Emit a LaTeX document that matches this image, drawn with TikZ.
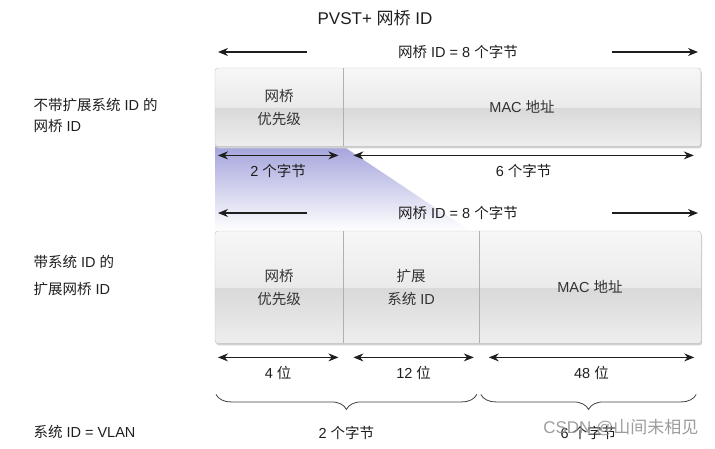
\documentclass[tikz,border=0pt]{standalone}
\usepackage{fontspec}
\setmainfont{Liberation Sans}
\newfontfamily\cjk{Noto Sans CJK SC}
\newcommand{\zh}[1]{{\cjk #1}}
\usetikzlibrary{positioning,arrows.meta,decorations.pathreplacing,backgrounds}

\definecolor{txt}{HTML}{1E1E1E}
\definecolor{frame}{HTML}{C2C2C2}
\definecolor{sep}{HTML}{B0B0B0}
\definecolor{lilac}{RGB}{164,164,220}
\definecolor{boxtop}{HTML}{F7F7F7}
\definecolor{boxmid}{HTML}{EAEAEA}
\definecolor{boxband}{HTML}{D9D9D9}
\definecolor{boxlow}{HTML}{EEEEEE}
\pgfdeclareverticalshading{fieldshade}{100bp}{color(0bp)=(boxlow); color(25bp)=(boxlow); color(49.6bp)=(boxband); color(50bp)=(boxmid); color(75bp)=(boxtop); color(100bp)=(boxtop)}

\tikzset{
  field/.style={inner sep=0pt, align=center, text=black!80, font=\fontsize{14.5}{23}\selectfont},
  sizearrow/.style={{Stealth[length=10pt,width=8pt]}-{Stealth[length=10pt,width=8pt]}, line width=1pt, txt},
  halfarrow/.style={-{Stealth[length=10pt,width=8pt]}, line width=1.1pt, txt},
  bytebrace/.style={decorate, decoration={brace, mirror, amplitude=15pt}, line width=0.8pt, txt!85},
  boxshadow/.style={black!18, rounded corners=3pt},
  boxbody/.style={shading=fieldshade, draw=frame, rounded corners=3pt}
}

\begin{document}
\begin{tikzpicture}[x=1pt, y=-1pt, every node/.style={text=txt, font=\fontsize{14.5}{17}\selectfont}]
\useasboundingbox (0,0) rectangle (715,448);

% title and row labels
\node[font=\fontsize{17}{20}\selectfont] (title) at (375,18) {PVST+ \zh{网桥} ID};
\node[anchor=west, align=left, font=\fontsize{14.5}{21}\selectfont] (lbl1) at (30,115) {\zh{不带扩展系统} ID \zh{的}\\\zh{网桥} ID};
\node[anchor=west, align=left, font=\fontsize{14.5}{27}\selectfont] (lbl2) at (30,275) {\zh{带系统} ID \zh{的}\\\zh{扩展网桥} ID};
\node[anchor=west] (lbl3) at (30,432) {\zh{系统} ID = VLAN};

% bridge ID without extended system ID
\node[field, anchor=north west, minimum width=128pt, minimum height=78pt] (prio1) at (215,68) {\zh{网桥}\\\zh{优先级}};
\node[field, right=0pt of prio1, minimum width=357pt, minimum height=78pt] (mac1) {MAC \zh{地址}};

% bridge ID with extended system ID
\node[field, anchor=north west, minimum width=128pt, minimum height=112pt] (prio2) at (215,231) {\zh{网桥}\\\zh{优先级}};
\node[field, right=0pt of prio2, minimum width=135pt, minimum height=112pt] (ext2) {\zh{扩展}\\\zh{系统} ID};
\node[field, right=0pt of ext2, minimum width=222pt, minimum height=112pt] (mac2) {MAC \zh{地址}};

\begin{scope}[on background layer]
\shade[top color=lilac, bottom color=white] (prio1.south west) -- (prio1.south east) -- (470,231) -- (prio2.north west) -- cycle;
\fill[boxshadow] ([shift={(1pt,-2pt)}]prio1.north west) rectangle ([shift={(1pt,-2pt)}]mac1.south east);
\fill[boxshadow] ([shift={(1pt,-2pt)}]prio2.north west) rectangle ([shift={(1pt,-2pt)}]mac2.south east);
\shadedraw[boxbody] (prio1.north west) rectangle (mac1.south east);
\shadedraw[boxbody] (prio2.north west) rectangle (mac2.south east);
\draw[sep] (prio1.north east) -- (prio1.south east);
\draw[sep] (prio2.north east) -- (prio2.south east);
\draw[sep] (ext2.north east) -- (ext2.south east);
\end{scope}

% total length, upper
\node (len1) at (458,52) {\zh{网桥} ID = 8 \zh{个字节}};
\coordinate (len1a) at (307,52);
\coordinate (len1b) at (218,52);
\coordinate (len1c) at (612,52);
\coordinate (len1d) at (698,52);
\draw[halfarrow] (len1a) -- (len1b);
\draw[halfarrow] (len1c) -- (len1d);

% total length, lower
\node (len2) at (458,213) {\zh{网桥} ID = 8 \zh{个字节}};
\coordinate (len2a) at (307,213);
\coordinate (len2b) at (218,213);
\coordinate (len2c) at (612,213);
\coordinate (len2d) at (698,213);
\draw[halfarrow] (len2a) -- (len2b);
\draw[halfarrow] (len2c) -- (len2d);

% field sizes
\draw[sizearrow] ([shift={(3pt,-9pt)}]prio1.south west) -- ([shift={(-5pt,-9pt)}]prio1.south east) node[midway, below=5pt] {2 \zh{个字节}};
\draw[sizearrow] ([shift={(10pt,-9pt)}]mac1.south west) -- ([shift={(-7pt,-9pt)}]mac1.south east) node[midway, below=5pt] {6 \zh{个字节}};

\draw[sizearrow] ([shift={(3pt,-14pt)}]prio2.south west) -- ([shift={(-5pt,-14pt)}]prio2.south east) node[midway, below=5pt] {4 \zh{位}};
\draw[sizearrow] ([shift={(10pt,-14pt)}]ext2.south west) -- ([shift={(-5pt,-14pt)}]ext2.south east) node[midway, below=5pt] {12 \zh{位}};
\draw[sizearrow] ([shift={(10pt,-14pt)}]mac2.south west) -- ([shift={(-7pt,-14pt)}]mac2.south east) node[midway, below=5pt] {48 \zh{位}};

% bytes
\draw[bytebrace] ([shift={(1pt,-51pt)}]prio2.south west) -- ([shift={(-2pt,-51pt)}]ext2.south east) node[midway, below=28pt] {2 \zh{个字节}};
\draw[bytebrace] ([shift={(2pt,-51pt)}]mac2.south west) -- ([shift={(-5pt,-51pt)}]mac2.south east) node[midway, below=28pt] {6 \zh{个字节}};

\node[anchor=east, text=black!45, text opacity=0.85, font=\fontsize{17}{20}\selectfont] (mark) at (702,428) {CSDN @\zh{山间未相见}};
\end{tikzpicture}
\end{document}
